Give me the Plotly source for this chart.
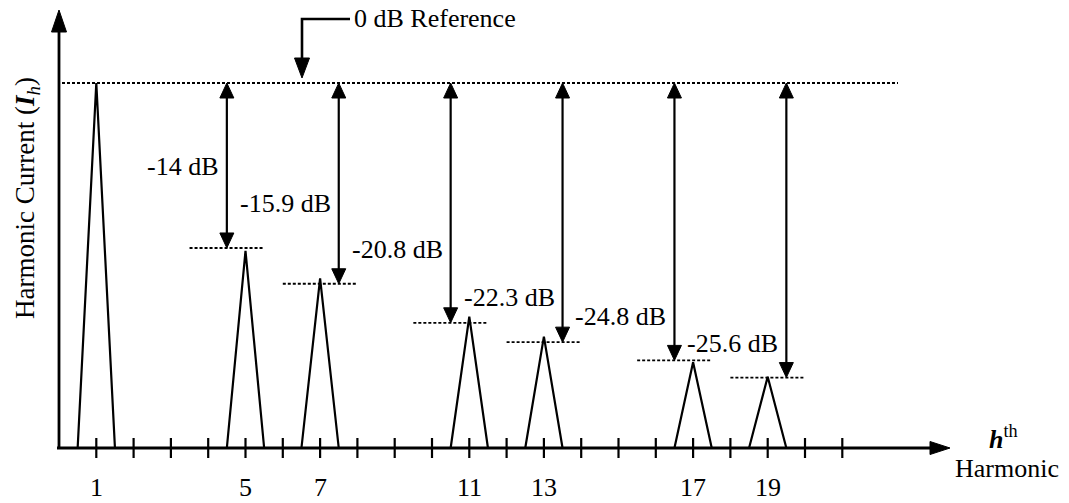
import plotly.graph_objects as go

# ---------------- data ----------------
harmonics = [1, 5, 7, 11, 13, 17, 19]
peak_height = [100, 54, 46.5, 36, 30.5, 23.5, 19.5]      # drawn amplitude, fundamental = 100
ref_level = 100                                           # 0 dB reference
level_marks = [54.8, 45.0, 34.3, 29.0, 24.0, 19.3]        # dotted level line for h = 5 ... 19
db_labels = ["-14 dB", "-15.9 dB", "-20.8 dB", "-22.3 dB", "-24.8 dB", "-25.6 dB"]
tick_labels = ["1", "5", "7", "11", "13", "17", "19"]
minor_ticks = list(range(1, 22))

# ---------------- layout helpers (pixel geometry) ----------------
W, H = 1069, 503
PX_X0, PX_PER_H = 59.0, 37.3      # pixel of h = 0, pixels per harmonic
PX_Y0, PX_PER_U = 448.0, 3.65     # pixel of baseline, pixels per amplitude unit


def px2x(px):
    return (px - PX_X0) / PX_PER_H


def px2y(py):
    return (PX_Y0 - py) / PX_PER_U


def dxp(p):
    return p / PX_PER_H


def dyp(p):
    return p / PX_PER_U


FONT = "Liberation Serif, Times New Roman, serif"
FS = 26
label_y_px = [166, 203, 249, 297, 316, 343]

fig = go.Figure()

# triangles (spectral lines)
tx, ty = [], []
for h, p in zip(harmonics, peak_height):
    tx += [h - 0.5, h, h + 0.5, None]
    ty += [0, p, 0, None]
fig.add_trace(go.Scatter(x=tx, y=ty, mode="lines", line=dict(color="black", width=2.2),
                         hoverinfo="skip", showlegend=False))

# tick marks on the harmonic axis
kx, ky = [], []
for t in minor_ticks:
    kx += [t, t, None]
    ky += [dyp(-10), dyp(10), None]
fig.add_trace(go.Scatter(x=kx, y=ky, mode="lines", line=dict(color="black", width=2.2),
                         hoverinfo="skip", showlegend=False))

# axes lines
ax_top = px2y(10)
ax_right = px2x(950)
fig.add_trace(go.Scatter(x=[0, 0, None, px2x(57), ax_right - dxp(12)],
                         y=[ax_top - dyp(12), 0, None, 0, 0],
                         mode="lines", line=dict(color="black", width=2.8),
                         hoverinfo="skip", showlegend=False))

# dotted 0 dB reference line
fig.add_trace(go.Scatter(x=[px2x(62), px2x(898)], y=[ref_level, ref_level], mode="lines",
                         line=dict(color="black", width=1.8, dash="3px,2px"),
                         hoverinfo="skip", showlegend=False))

# dotted level lines and double arrows
lx, ly = [], []
vx, vy = [], []
heads_x, heads_y = [], []
HEAD_W, HEAD_L = 14, 15


def add_head(x, y, direction, length, width):
    if direction == "up":
        heads_x.extend([x, x - dxp(width / 2), x + dxp(width / 2), x, None])
        heads_y.extend([y, y - dyp(length), y - dyp(length), y, None])
    elif direction == "down":
        heads_x.extend([x, x - dxp(width / 2), x + dxp(width / 2), x, None])
        heads_y.extend([y, y + dyp(length), y + dyp(length), y, None])
    elif direction == "right":
        heads_x.extend([x, x - dxp(length), x - dxp(length), x, None])
        heads_y.extend([y, y + dyp(width / 2), y - dyp(width / 2), y, None])


arrow_xs = []
for i, (h, lv) in enumerate(zip(harmonics[1:], level_marks)):
    side = -1 if i % 2 == 0 else 1
    if side < 0:
        x0, x1 = h - 1.5, h + 0.5
    else:
        x0, x1 = h - 1.0, h + 1.0
    lx += [x0, x1, None]
    ly += [lv, lv, None]
    axp = h + 0.5 * side
    arrow_xs.append(axp)
    vx += [axp, axp, None]
    vy += [lv + dyp(HEAD_L - 3), ref_level - dyp(HEAD_L - 3), None]
    add_head(axp, ref_level, "up", HEAD_L, HEAD_W)
    add_head(axp, lv, "down", HEAD_L, HEAD_W)

fig.add_trace(go.Scatter(x=lx, y=ly, mode="lines",
                         line=dict(color="black", width=1.8, dash="3px,2px"),
                         hoverinfo="skip", showlegend=False))
fig.add_trace(go.Scatter(x=vx, y=vy, mode="lines", line=dict(color="black", width=2.2),
                         hoverinfo="skip", showlegend=False))

# axis arrow heads
add_head(0, ax_top, "up", 22, 15)
add_head(ax_right, 0, "right", 20, 13)

# 0 dB reference pointer
ptr_x = px2x(302)
ptr_top = px2y(19)
ptr_tip = px2y(78)
fig.add_trace(go.Scatter(x=[px2x(350), ptr_x, ptr_x], y=[ptr_top, ptr_top, ptr_tip + dyp(15)],
                         mode="lines", line=dict(color="black", width=2.6),
                         hoverinfo="skip", showlegend=False))
add_head(ptr_x, ptr_tip, "down", 20, 15)

fig.add_trace(go.Scatter(x=heads_x, y=heads_y, mode="lines", fill="toself",
                         fillcolor="black", line=dict(color="black", width=1),
                         hoverinfo="skip", showlegend=False))

annotations = []
# dB labels
for axp, txt, ypx in zip(arrow_xs, db_labels, label_y_px):
    annotations.append(dict(x=axp, y=px2y(ypx), text=txt, showarrow=False,
                            xanchor="right", yanchor="middle", xshift=-6,
                            font=dict(family=FONT, size=FS, color="black")))
# tick labels
for h, t in zip(harmonics, tick_labels):
    annotations.append(dict(x=h, y=px2y(487), text=t, showarrow=False,
                            xanchor="center", yanchor="middle",
                            font=dict(family=FONT, size=FS, color="black")))
# reference text
annotations.append(dict(x=px2x(352), y=px2y(18), text="0 dB Reference", showarrow=False,
                        xanchor="left", yanchor="middle",
                        font=dict(family=FONT, size=FS, color="black")))
# y axis title
annotations.append(dict(x=px2x(27), y=px2y(198),
                        text="Harmonic Current (<b><i>I</i></b><sub><i>h</i></sub>)",
                        textangle=-90, showarrow=False, xanchor="center", yanchor="middle",
                        font=dict(family=FONT, size=FS + 1, color="black")))
# x axis title
annotations.append(dict(x=px2x(1003), y=px2y(437), text="<b><i>h</i></b><sup>th</sup>",
                        showarrow=False, xanchor="center", yanchor="middle",
                        font=dict(family=FONT, size=FS, color="black")))
annotations.append(dict(x=px2x(1007), y=px2y(468), text="Harmonic",
                        showarrow=False, xanchor="center", yanchor="middle",
                        font=dict(family=FONT, size=FS, color="black")))

fig.update_layout(
    width=W, height=H,
    margin=dict(l=0, r=0, t=0, b=0),
    paper_bgcolor="white", plot_bgcolor="white",
    xaxis=dict(range=[px2x(0), px2x(W)], visible=False, fixedrange=True),
    yaxis=dict(range=[px2y(H), px2y(0)], visible=False, fixedrange=True),
    annotations=annotations,
    showlegend=False,
)

fig.write_html(
    "out.html",
    config={"displayModeBar": False},
    post_script="document.body.style.margin='0';document.body.style.overflow='hidden';",
)
